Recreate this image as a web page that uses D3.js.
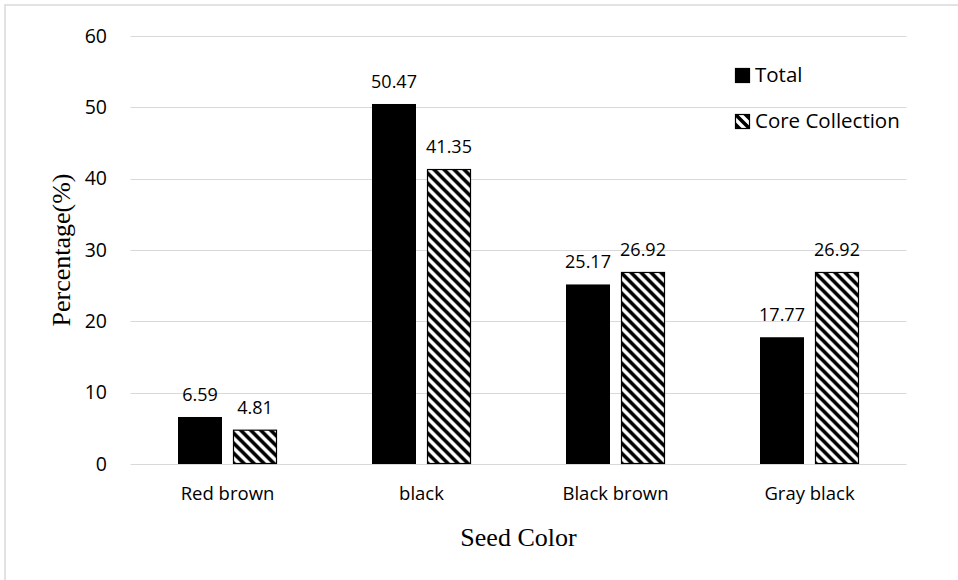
<!DOCTYPE html>
<html>
<head>
<meta charset="utf-8">
<script src="https://cdn.jsdelivr.net/npm/d3@7"></script>
<style>
  html, body { margin: 0; padding: 0; background: #fff; }
  svg { display: block; }
</style>
</head>
<body>
<svg id="chart" width="958" height="580"></svg>
<script>
const categories = ["Red brown", "black", "Black brown", "Gray black"];
const seriesNames = ["Total", "Core Collection"];
const totalValues = [6.59, 50.47, 25.17, 17.77];
const coreValues = [4.81, 41.35, 26.92, 26.92];
const yTicks = [0, 10, 20, 30, 40, 50, 60];
const yTitle = "Percentage(%)";
const xTitle = "Seed Color";

const svg = d3.select("#chart");
const W = 958, H = 580;
const pLeft = 130.5, pRight = 906.5, pTop = 36, pBottom = 464;
const sans = "'Open Sans', 'Noto Sans', sans-serif";
const serif = "'Liberation Serif', 'DejaVu Serif', serif";

// border
svg.append("rect").attr("x", 5).attr("y", 5).attr("width", W + 10).attr("height", H + 10)
  .attr("fill", "#fff").attr("stroke", "#d9d9d9").attr("stroke-width", 1.5);

// hatch pattern
const P = 10;
const defs = svg.append("defs");
const pat = defs.append("pattern").attr("id", "hatch")
  .attr("patternUnits", "userSpaceOnUse").attr("width", P).attr("height", P);
pat.append("rect").attr("width", P).attr("height", P).attr("fill", "#fff");
pat.append("path").attr("d", `M${-P/2},${P/2} L${P/2},${P*1.5} M0,0 L${P},${P} M${P/2},${-P/2} L${P*1.5},${P/2}`)
  .attr("stroke", "#000").attr("stroke-width", 3.6).attr("stroke-linecap", "square");

const y = d3.scaleLinear().domain([0, 60]).range([pBottom, pTop]);
const x0 = d3.scaleBand().domain(categories).range([pLeft, pRight]).padding(0);
const x1 = d3.scaleBand().domain(seriesNames)
  .range([x0.bandwidth() / 2 - 49.5, x0.bandwidth() / 2 + 49.5]).paddingInner(0.2).paddingOuter(0);

// gridlines
svg.append("g").selectAll("line").data(yTicks).join("line")
  .attr("x1", pLeft).attr("x2", pRight)
  .attr("y1", d => Math.round(y(d)) + 0.5).attr("y2", d => Math.round(y(d)) + 0.5)
  .attr("stroke", "#d9d9d9").attr("stroke-width", 1);

// y tick labels
svg.append("g").selectAll("text").data(yTicks).join("text")
  .attr("x", 107).attr("y", d => y(d)).attr("dy", "0.35em")
  .attr("text-anchor", "end").attr("font-family", sans).attr("font-size", 19.5)
  .attr("fill", "#000").text(d => d);

// bars
const data = categories.map((c, i) => ({ cat: c, vals: [
  { s: seriesNames[0], v: totalValues[i] },
  { s: seriesNames[1], v: coreValues[i] }
]}));

const groups = svg.append("g").selectAll("g").data(data).join("g")
  .attr("transform", d => `translate(${x0(d.cat)},0)`);

groups.selectAll("rect").data(d => d.vals).join("rect")
  .attr("x", d => x1(d.s) + (d.s === seriesNames[1] ? 0.5 : 0))
  .attr("y", d => y(d.v) + (d.s === seriesNames[1] ? 0.5 : 0))
  .attr("width", d => x1.bandwidth() - (d.s === seriesNames[1] ? 1 : 0))
  .attr("height", d => y(0) - y(d.v) - (d.s === seriesNames[1] ? 1 : 0))
  .attr("fill", d => d.s === seriesNames[0] ? "#000" : "url(#hatch)")
  .attr("stroke", d => d.s === seriesNames[0] ? "none" : "#000")
  .attr("stroke-width", 1.2);

groups.selectAll("text").data(d => d.vals).join("text")
  .attr("x", d => x1(d.s) + x1.bandwidth() / 2)
  .attr("y", d => y(d.v) - 16)
  .attr("text-anchor", "middle").attr("font-family", sans).attr("font-size", 18)
  .attr("fill", "#000").text(d => d.v.toFixed(2));

// category labels
svg.append("g").selectAll("text").data(categories).join("text")
  .attr("x", d => x0(d) + x0.bandwidth() / 2).attr("y", 494).attr("dy", "0.35em")
  .attr("text-anchor", "middle").attr("font-family", sans).attr("font-size", 18.5)
  .attr("fill", "#000").text(d => d);

// axis titles
svg.append("text").attr("x", (pLeft + pRight) / 2).attr("y", 537).attr("dy", "0.35em")
  .attr("text-anchor", "middle").attr("font-family", serif).attr("font-size", 26)
  .attr("fill", "#000").text(xTitle);

svg.append("text").attr("transform", `translate(61,${(pTop + pBottom) / 2}) rotate(-90)`)
  .attr("dy", "0.35em").attr("text-anchor", "middle").attr("font-family", serif)
  .attr("font-size", 26).attr("fill", "#000").text(yTitle);

// legend
const legend = svg.append("g").selectAll("g").data(seriesNames).join("g")
  .attr("transform", (d, i) => `translate(735,${68 + i * 46})`);
legend.append("rect").attr("x", 0.5).attr("y", 0.5).attr("width", 14).attr("height", 14)
  .attr("fill", (d, i) => i === 0 ? "#000" : "url(#hatch)")
  .attr("stroke", "#000").attr("stroke-width", 1.2);
legend.append("text").attr("x", 20).attr("y", 7).attr("dy", "0.35em")
  .attr("font-family", sans).attr("font-size", 20.5).attr("fill", "#000").text(d => d);
</script>
</body>
</html>
